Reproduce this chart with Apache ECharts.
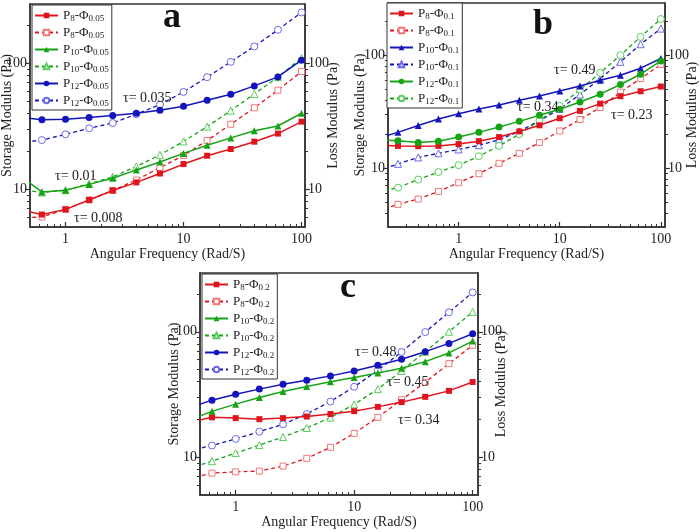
<!DOCTYPE html>
<html><head><meta charset="utf-8">
<script src="https://cdn.jsdelivr.net/npm/echarts@6/dist/echarts.min.js"></script>
<style>html,body{margin:0;padding:0;background:#fff}#c{width:700px;height:532px}</style>
</head><body><div id="c"></div>
<script>
// ---------- data ----------
const freqAC = [0.398, 0.631, 1, 1.585, 2.512, 3.981, 6.31, 10, 15.85, 25.12, 39.81, 63.1, 100];
const freqB = [0.158, 0.251, 0.398, 0.631, 1, 1.585, 2.512, 3.981, 6.31, 10, 15.85, 25.12, 39.81, 63.1, 100];

// panel a (Phi 0.05)
const aP8s  = [6.9, 6.28, 6.9, 8.2, 9.75, 11.3, 13.3, 15.8, 18.4, 20.8, 23.8, 27.6, 34.3];
const aP8l  = [5.9, 6.0, 6.9, 8.2, 9.75, 11.8, 14.8, 18.5, 24.3, 32.7, 44.2, 61, 85.8];
const aP10s = [13.0, 9.5, 9.8, 10.9, 12.2, 14.2, 16.4, 19.2, 22.3, 25.5, 29.1, 31.7, 40];
const aP10l = [10.0, 9.4, 9.8, 11.0, 12.5, 15.1, 18.7, 23.9, 31.3, 42, 57, 77.4, 110];
const aP12s = [37.4, 35.6, 35.8, 37, 38.4, 40, 42.3, 45.5, 50.8, 56.6, 66, 77.8, 105.6];
const aP12l = [23.3, 24.5, 27.2, 30.4, 33.5, 39.3, 46.9, 59.1, 77.4, 102.5, 135.8, 184, 253];

// panel b (Phi 0.1)
const bP8s  = [15.9, 15.7, 15.6, 15.7, 16.3, 17.3, 18.8, 21.1, 23.9, 27.6, 32.1, 37.2, 43.3, 47.9, 52.7];
const bP8l  = [4.16, 4.76, 5.3, 6.2, 7.4, 8.9, 11.0, 13.5, 16.8, 21.3, 26.9, 34.3, 47, 62, 82.6];
const bP10s = [18.4, 20.7, 23.8, 27.2, 30.3, 33.4, 36.2, 39.8, 43.5, 48.2, 53.4, 60, 66.4, 76.7, 93.4];
const bP10l = [9.36, 10.9, 12.4, 13.5, 14.6, 15.9, 17.8, 21.1, 26.3, 33.4, 44.8, 62, 87.3, 125, 172];
const bP12s = [17.8, 17.4, 16.8, 17.3, 18.8, 20.7, 23.1, 25.9, 29.3, 33.2, 38.5, 45.1, 55, 67.8, 89];
const bP12l = [6.1, 6.7, 7.9, 9.2, 10.6, 12.7, 15.7, 19.9, 26.3, 35.5, 49.5, 69.7, 100, 145, 209];

// panel c (Phi 0.2)
const cP8s  = [18.9, 20.8, 20.5, 20.1, 20.5, 21.1, 22.1, 23.3, 25.2, 27.5, 30.3, 33.8, 39.8];
const cP8l  = [6.7, 7.47, 7.65, 7.75, 8.5, 9.8, 12.0, 15.5, 20.8, 28.7, 39.6, 55.7, 78];
const cP10s = [19.7, 23.2, 26.5, 29.9, 33.4, 36.6, 39.9, 43.2, 47, 51.2, 57.8, 67.8, 84.3];
const cP10l = [8.1, 9.3, 10.8, 12.5, 14.5, 17.1, 20.7, 26.4, 34.9, 48.7, 69.3, 100, 144];
const cP12s = [24.6, 28.5, 31.8, 34.9, 38.2, 41.1, 44.5, 48.7, 54.1, 60.3, 69.4, 80.8, 96.4];
const cP12l = [11.2, 12.4, 14.0, 16.0, 18.3, 22.1, 27.8, 36.4, 49.3, 69, 99.4, 143, 206];

const panelLetters = ['a', 'b', 'c'];
const tauA = ['τ= 0.035', 'τ= 0.01', 'τ= 0.008'];
const tauB = ['τ= 0.49', 'τ= 0.34', 'τ= 0.23'];
const tauC = ['τ= 0.48', 'τ= 0.45', 'τ= 0.34'];
const xTitle = 'Angular Frequency (Rad/S)';
const yLeftTitle = 'Storage Modulus (Pa)';
const yRightTitle = 'Loss Modulus (Pa)';

// ---------- styling ----------
const FONT = 'Liberation Serif';
const RED = '#e0141c', RED_L = '#f07878';
const GREEN = '#16a316', GREEN_L = '#5ccc5c';
const BLUE = '#1414bc', BLUE_L = '#6a6ae8';

const grids = [
  {left: 30, top: 4, width: 275, height: 223},
  {left: 388, top: 3, width: 277, height: 224},
  {left: 200, top: 273, width: 278, height: 222}
];
const xRanges = [[0.5, 107], [0.2, 110], [0.5, 111]];
const yRanges = [[5, 295], [3, 290], [5, 294]];
const yNameGaps = [[16, 21], [21, 20], [19, 16]];

function minorTicks(lo, hi) {
  const out = [];
  for (let e = -2; e <= 3; e++) {
    for (let k = 2; k <= 9; k++) {
      const v = k * Math.pow(10, e);
      if (v > lo && v < hi) out.push(+v.toPrecision(3));
    }
  }
  return out;
}

const xAxis = [], yAxis = [], series = [], legend = [];
const axisLineStyle = {color: '#333', width: 1.5};
const labelStyle = {fontFamily: FONT, fontSize: 14, color: '#222'};
const nameStyle = {fontFamily: FONT, fontSize: 14, color: '#222'};

grids.forEach((g, i) => {
  const [x0, x1] = xRanges[i], [y0, y1] = yRanges[i];
  xAxis.push({
    gridIndex: i, type: 'log', min: x0, max: x1,
    axisLine: {lineStyle: axisLineStyle},
    axisTick: {inside: true, length: 5, lineStyle: {color: '#333', width: 1.2}},
    axisLabel: Object.assign({showMinLabel: false, showMaxLabel: false, margin: 5}, labelStyle),
    splitLine: {show: false},
    name: xTitle, nameLocation: 'middle', nameGap: 20, nameMoveOverlap: false, nameTextStyle: nameStyle
  });
  xAxis.push({
    gridIndex: i, type: 'log', min: x0, max: x1, position: 'bottom',
    axisLine: {show: false}, axisLabel: {show: false}, splitLine: {show: false},
    axisTick: {inside: true, length: 3, customValues: minorTicks(x0, x1), lineStyle: {color: '#333', width: 1}}
  });
  ['left', 'right'].forEach((pos, j) => {
    yAxis.push({
      gridIndex: i, type: 'log', min: y0, max: y1, position: pos,
      axisLine: {show: true, lineStyle: axisLineStyle},
      axisTick: {inside: false, length: 5, lineStyle: {color: '#333', width: 1.2}},
      axisLabel: Object.assign({showMinLabel: false, showMaxLabel: false, margin: 3}, labelStyle),
      splitLine: {show: false},
      name: pos === 'left' ? yLeftTitle : yRightTitle,
      nameLocation: 'middle', nameRotate: 90, nameGap: yNameGaps[i][j], nameMoveOverlap: false,
      nameTextStyle: nameStyle
    });
    yAxis.push({
      gridIndex: i, type: 'log', min: y0, max: y1, position: pos,
      axisLine: {show: false}, axisLabel: {show: false}, splitLine: {show: false},
      axisTick: {inside: false, length: 3, customValues: minorTicks(y0, y1), lineStyle: {color: '#333', width: 1}}
    });
  });
});

function addSeries(panel, p, phi, kind, freq, vals, color, light, symbol) {
  const filled = kind === 's';
  const name = p + '|' + phi + '|' + kind;
  series.push({
    type: 'line', name,
    xAxisIndex: panel * 2,
    yAxisIndex: panel * 4 + (filled ? 0 : 2),
    data: freq.map((f, k) => [f, vals[k]]),
    symbol, symbolSize: symbol === 'rect' ? 6 : 7,
    showAllSymbol: true, clip: true,
    lineStyle: {color, width: filled ? 1.5 : 1.3, type: filled ? 'solid' : [4, 3]},
    itemStyle: filled ? {color} : {color: '#fff', borderColor: light, borderWidth: 1},
    emphasis: {disabled: true}, animation: false, z: filled ? 3 : 2
  });
  return name;
}

const panelsDef = [
  {phi: '0.05', freq: freqAC, sets: [['8', aP8s, aP8l, RED, RED_L, 'rect'], ['10', aP10s, aP10l, GREEN, GREEN_L, 'triangle'], ['12', aP12s, aP12l, BLUE, BLUE_L, 'circle']]},
  {phi: '0.1', freq: freqB, sets: [['8', bP8s, bP8l, RED, RED_L, 'rect'], ['10', bP10s, bP10l, BLUE, BLUE_L, 'triangle'], ['12', bP12s, bP12l, GREEN, GREEN_L, 'circle']]},
  {phi: '0.2', freq: freqAC, sets: [['8', cP8s, cP8l, RED, RED_L, 'rect'], ['10', cP10s, cP10l, GREEN, GREEN_L, 'triangle'], ['12', cP12s, cP12l, BLUE, BLUE_L, 'circle']]}
];
const legendPos = [{left: 32, top: 5}, {left: 387, top: 3}, {left: 202, top: 274}];

panelsDef.forEach((pd, i) => {
  const names = [];
  pd.sets.forEach(s => {
    names.push(addSeries(i, s[0], pd.phi, 's', pd.freq, s[1], s[3], s[4], s[5]));
    names.push(addSeries(i, s[0], pd.phi, 'l', pd.freq, s[2], s[3], s[4], s[5]));
  });
  legend.push({
    data: names, orient: 'vertical', left: legendPos[i].left, top: legendPos[i].top,
    itemWidth: 23, itemHeight: 7, itemGap: 2, padding: [3, 3, 2, 2],
    borderColor: '#333', borderWidth: 1, backgroundColor: '#fff',
    selectedMode: false,
    formatter: n => { const t = n.split('|'); return '{n|P}{s|' + t[0] + '}{n|-Φ}{s|' + t[1] + '}'; },
    textStyle: {
      fontFamily: FONT, color: '#222',
      rich: {
        n: {fontFamily: FONT, fontSize: 13, color: '#222', lineHeight: 14},
        s: {fontFamily: FONT, fontSize: 9, color: '#222', lineHeight: 8, padding: [6, 0, 0, 0]}
      }
    }
  });
});

const graphic = [];
const letterPos = [[172, 18], [543, 25], [348, 288]];
letterPos.forEach((p, i) => graphic.push({
  type: 'text', x: p[0], y: p[1], style: {text: panelLetters[i], font: 'bold 36px "Liberation Serif"', fill: '#111', align: 'center', verticalAlign: 'middle'}, z: 10
}));
const tauPos = [
  [[123, 98], [55, 176], [74, 218]],
  [[554, 70], [517, 107], [611, 115]],
  [[355, 352], [387, 382], [398, 420]]
];
[tauA, tauB, tauC].forEach((arr, i) => arr.forEach((t, k) => graphic.push({
  type: 'text', x: tauPos[i][k][0], y: tauPos[i][k][1],
  style: {text: t, font: '14px "Liberation Serif"', fill: '#222', align: 'left', verticalAlign: 'middle'}, z: 10
})));

const chart = echarts.init(document.getElementById('c'));
chart.setOption({
  animation: false,
  backgroundColor: '#fff',
  grid: grids.map(g => Object.assign({show: true, borderColor: '#333', borderWidth: 1.5, backgroundColor: 'transparent', containLabel: false, outerBoundsMode: 'none'}, g)),
  xAxis, yAxis, series, legend, graphic
});
</script></body></html>
